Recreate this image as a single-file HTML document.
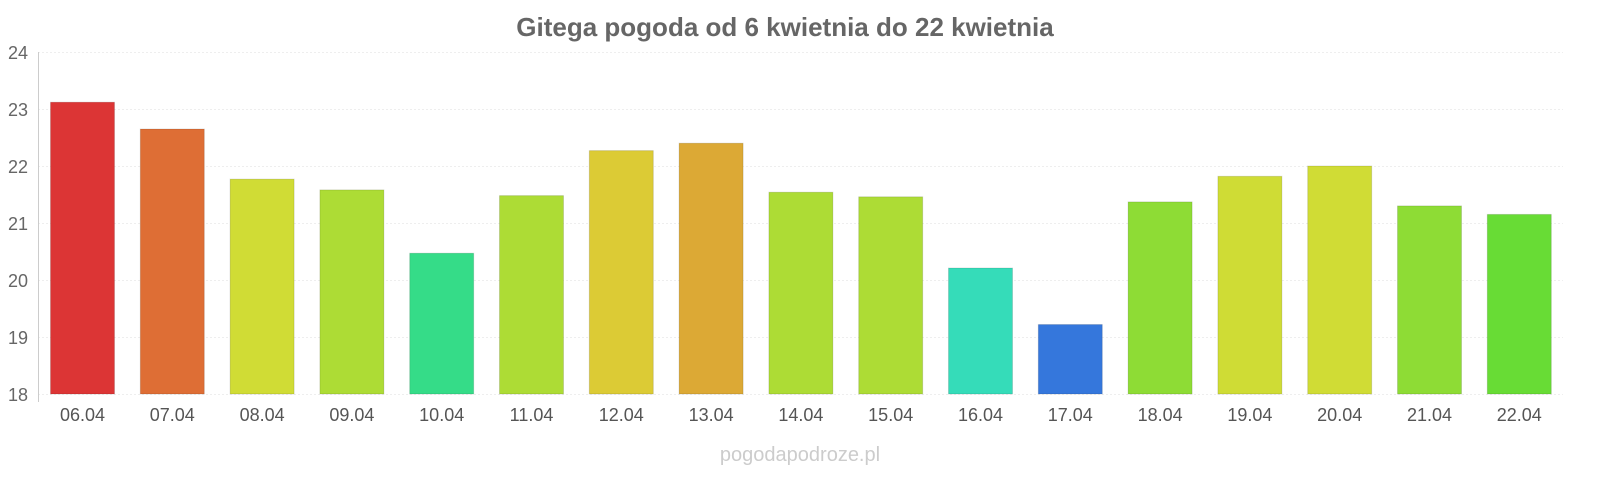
<!DOCTYPE html>
<html><head><meta charset="utf-8"><style>
html,body{margin:0;padding:0;background:#fff;width:1600px;height:480px;overflow:hidden;}
svg text{font-family:"Liberation Sans",sans-serif;}
</style></head><body>
<svg width="1600" height="480" xmlns="http://www.w3.org/2000/svg">
<text x="785" y="36" text-anchor="middle" font-size="26" font-weight="bold" fill="#666">Gitega pogoda od 6 kwietnia do 22 kwietnia</text>
<g stroke="#eee" stroke-width="1" stroke-dasharray="2,2">
<line x1="38" x2="1563" y1="52.5" y2="52.5"/><line x1="38" x2="1563" y1="109.5" y2="109.5"/>
<line x1="38" x2="1563" y1="166.5" y2="166.5"/><line x1="38" x2="1563" y1="223.5" y2="223.5"/>
<line x1="38" x2="1563" y1="280.5" y2="280.5"/><line x1="38" x2="1563" y1="337.5" y2="337.5"/>
<line x1="38" x2="1563" y1="394.5" y2="394.5"/>
</g>
<line x1="38.5" x2="38.5" y1="52" y2="402" stroke="#ccc"/>
<g font-size="18" fill="#666" text-anchor="end">
<text x="28" y="59">24</text><text x="28" y="116">23</text><text x="28" y="173">22</text>
<text x="28" y="230">21</text><text x="28" y="287">20</text><text x="28" y="344">19</text><text x="28" y="401">18</text>
</g>
<g stroke="rgba(0,0,0,0.12)" stroke-width="1">
<rect x="50.5" y="102.2" width="64" height="291.8" fill="#dc3535"/>
<rect x="140.3" y="129" width="64" height="265" fill="#de6e35"/>
<rect x="230.1" y="179.1" width="64" height="214.9" fill="#d0dc35"/>
<rect x="319.9" y="189.9" width="64" height="204.1" fill="#addc35"/>
<rect x="409.7" y="253.2" width="64" height="140.8" fill="#35dc88"/>
<rect x="499.5" y="195.6" width="64" height="198.4" fill="#addc35"/>
<rect x="589.3" y="150.6" width="64" height="243.4" fill="#dccb35"/>
<rect x="679.1" y="143.2" width="64" height="250.8" fill="#dca935"/>
<rect x="768.9" y="192.2" width="64" height="201.8" fill="#addc35"/>
<rect x="858.7" y="196.8" width="64" height="197.2" fill="#addc35"/>
<rect x="948.5" y="268" width="64" height="126" fill="#35dcb9"/>
<rect x="1038.3" y="324.5" width="64" height="69.5" fill="#3577dc"/>
<rect x="1128.1" y="201.9" width="64" height="192.1" fill="#8edc35"/>
<rect x="1217.9" y="176.3" width="64" height="217.7" fill="#cfdc35"/>
<rect x="1307.7" y="166" width="64" height="228" fill="#d0dc35"/>
<rect x="1397.5" y="205.9" width="64" height="188.1" fill="#8edc35"/>
<rect x="1487.3" y="214.4" width="64" height="179.6" fill="#68dc35"/>
</g>
<g font-size="18" fill="#555" text-anchor="middle">
<text x="82.5" y="421">06.04</text><text x="172.3" y="421">07.04</text><text x="262.1" y="421">08.04</text>
<text x="351.9" y="421">09.04</text><text x="441.7" y="421">10.04</text><text x="531.5" y="421">11.04</text>
<text x="621.3" y="421">12.04</text><text x="711.1" y="421">13.04</text><text x="800.9" y="421">14.04</text>
<text x="890.7" y="421">15.04</text><text x="980.5" y="421">16.04</text><text x="1070.3" y="421">17.04</text>
<text x="1160.1" y="421">18.04</text><text x="1249.9" y="421">19.04</text><text x="1339.7" y="421">20.04</text>
<text x="1429.5" y="421">21.04</text><text x="1519.3" y="421">22.04</text>
</g>
<text x="800" y="461" text-anchor="middle" font-size="20" fill="#ccc">pogodapodroze.pl</text>
</svg>
</body></html>
